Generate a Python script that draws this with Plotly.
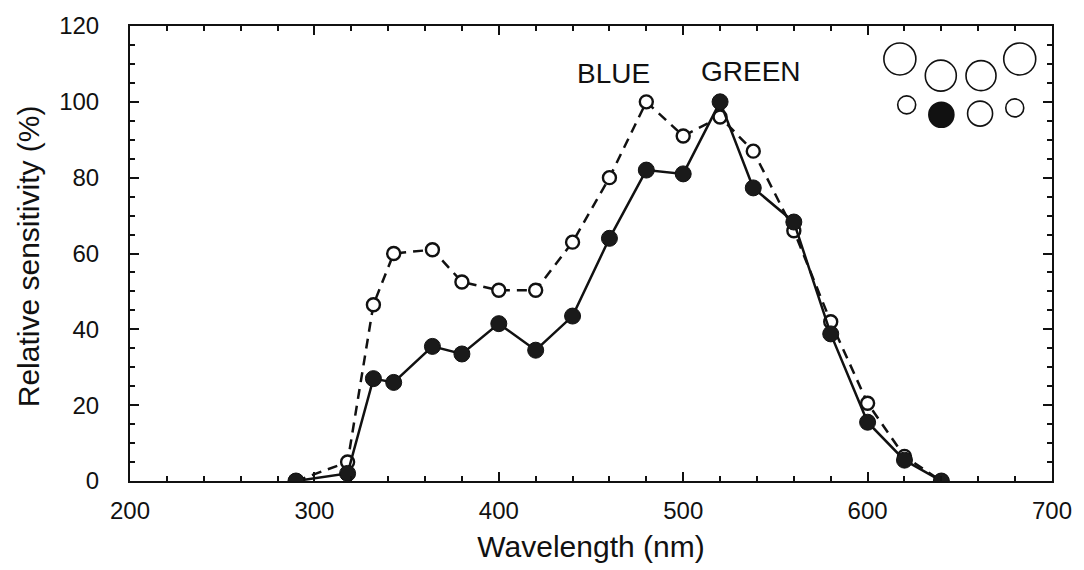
import plotly.graph_objects as go

# Wavelength (nm)
wavelength = [290, 318, 332, 343, 364, 380, 400, 420, 440, 460, 480, 500, 520, 538, 560, 580, 600, 620, 640]
# Filled circles / solid line
filled_vals = [0, 2, 27, 26, 35.5, 33.5, 41.5, 34.5, 43.5, 64, 82, 81, 100, 77.3, 68.3, 38.8, 15.5, 5.5, 0]
# Open circles / dashed line
open_vals = [0, 5, 46.5, 60, 61, 52.5, 50.3, 50.3, 63, 80, 100, 91, 96, 87, 66, 42, 20.5, 6.5, 0]

# Inset diagram of circles (top-right): centre (data units) and diameter (px)
inset_x = [617.5, 639.7, 661.5, 682.5, 621.2, 640.0, 661.0, 679.8]
inset_y = [111.3, 106.9, 106.9, 111.3, 99.2, 96.6, 96.9, 98.4]
inset_d = [32, 31, 30, 32, 18, 25, 25, 18]
inset_fill = ["white", "white", "white", "white", "white", "#111111", "white", "white"]

labels = ["BLUE", "GREEN"]
label_x = [462, 536.5]
label_y = [107.5, 108]

FONT = "Liberation Sans, Arial, Helvetica, sans-serif"

fig = go.Figure()
fig.add_trace(go.Scatter(
    x=wavelength, y=open_vals, mode="lines+markers",
    line=dict(color="#111", width=2.5, dash="10px,7px"),
    marker=dict(size=13, color="white", opacity=1, line=dict(color="#111", width=2.4)),
    showlegend=False))
fig.add_trace(go.Scatter(
    x=wavelength, y=filled_vals, mode="lines+markers",
    line=dict(color="#111", width=2.5),
    marker=dict(size=16, color="#1a1a1a", opacity=1, line=dict(color="#111", width=1)),
    showlegend=False))
fig.add_trace(go.Scatter(
    x=inset_x, y=inset_y, mode="markers",
    marker=dict(size=inset_d, color=inset_fill, opacity=1, line=dict(color="#111", width=1.6)),
    showlegend=False, hoverinfo="skip"))

for t, lx, ly in zip(labels, label_x, label_y):
    fig.add_annotation(x=lx, y=ly, text=t, showarrow=False,
                       font=dict(family=FONT, size=28, color="#111"))

fig.add_annotation(xref="paper", yref="paper", x=-0.11, y=0.493,
                   xanchor="center", yanchor="middle",
                   text="Relative sensitivity (%)", textangle=-90, showarrow=False,
                   font=dict(family=FONT, size=30, color="#111"))

axis_common = dict(
    showgrid=False, zeroline=False, showline=True, linecolor="#111", linewidth=2,
    mirror="allticks", ticks="inside", ticklen=9, tickwidth=2, tickcolor="#111",
    tickfont=dict(family=FONT, size=24, color="#111"),
)
fig.update_xaxes(range=[200, 700], tick0=200, dtick=100,
                 minor=dict(ticks="inside", dtick=20, ticklen=5, tickwidth=1.5, tickcolor="#111"),
                 title=dict(text="Wavelength (nm)", font=dict(family=FONT, size=30, color="#111"), standoff=13),
                 ticklabelstandoff=7, **axis_common)
fig.update_yaxes(range=[0, 120], tick0=0, dtick=20,
                 minor=dict(ticks="inside", dtick=5, ticklen=5, tickwidth=1.5, tickcolor="#111"),
                 ticklabelstandoff=24, **axis_common)

fig.update_layout(
    width=1084, height=570,
    margin=dict(l=130, r=27, t=23, b=88),
    plot_bgcolor="white", paper_bgcolor="white",
    font=dict(family=FONT, color="#111"),
)
fig.write_html("out.html")
